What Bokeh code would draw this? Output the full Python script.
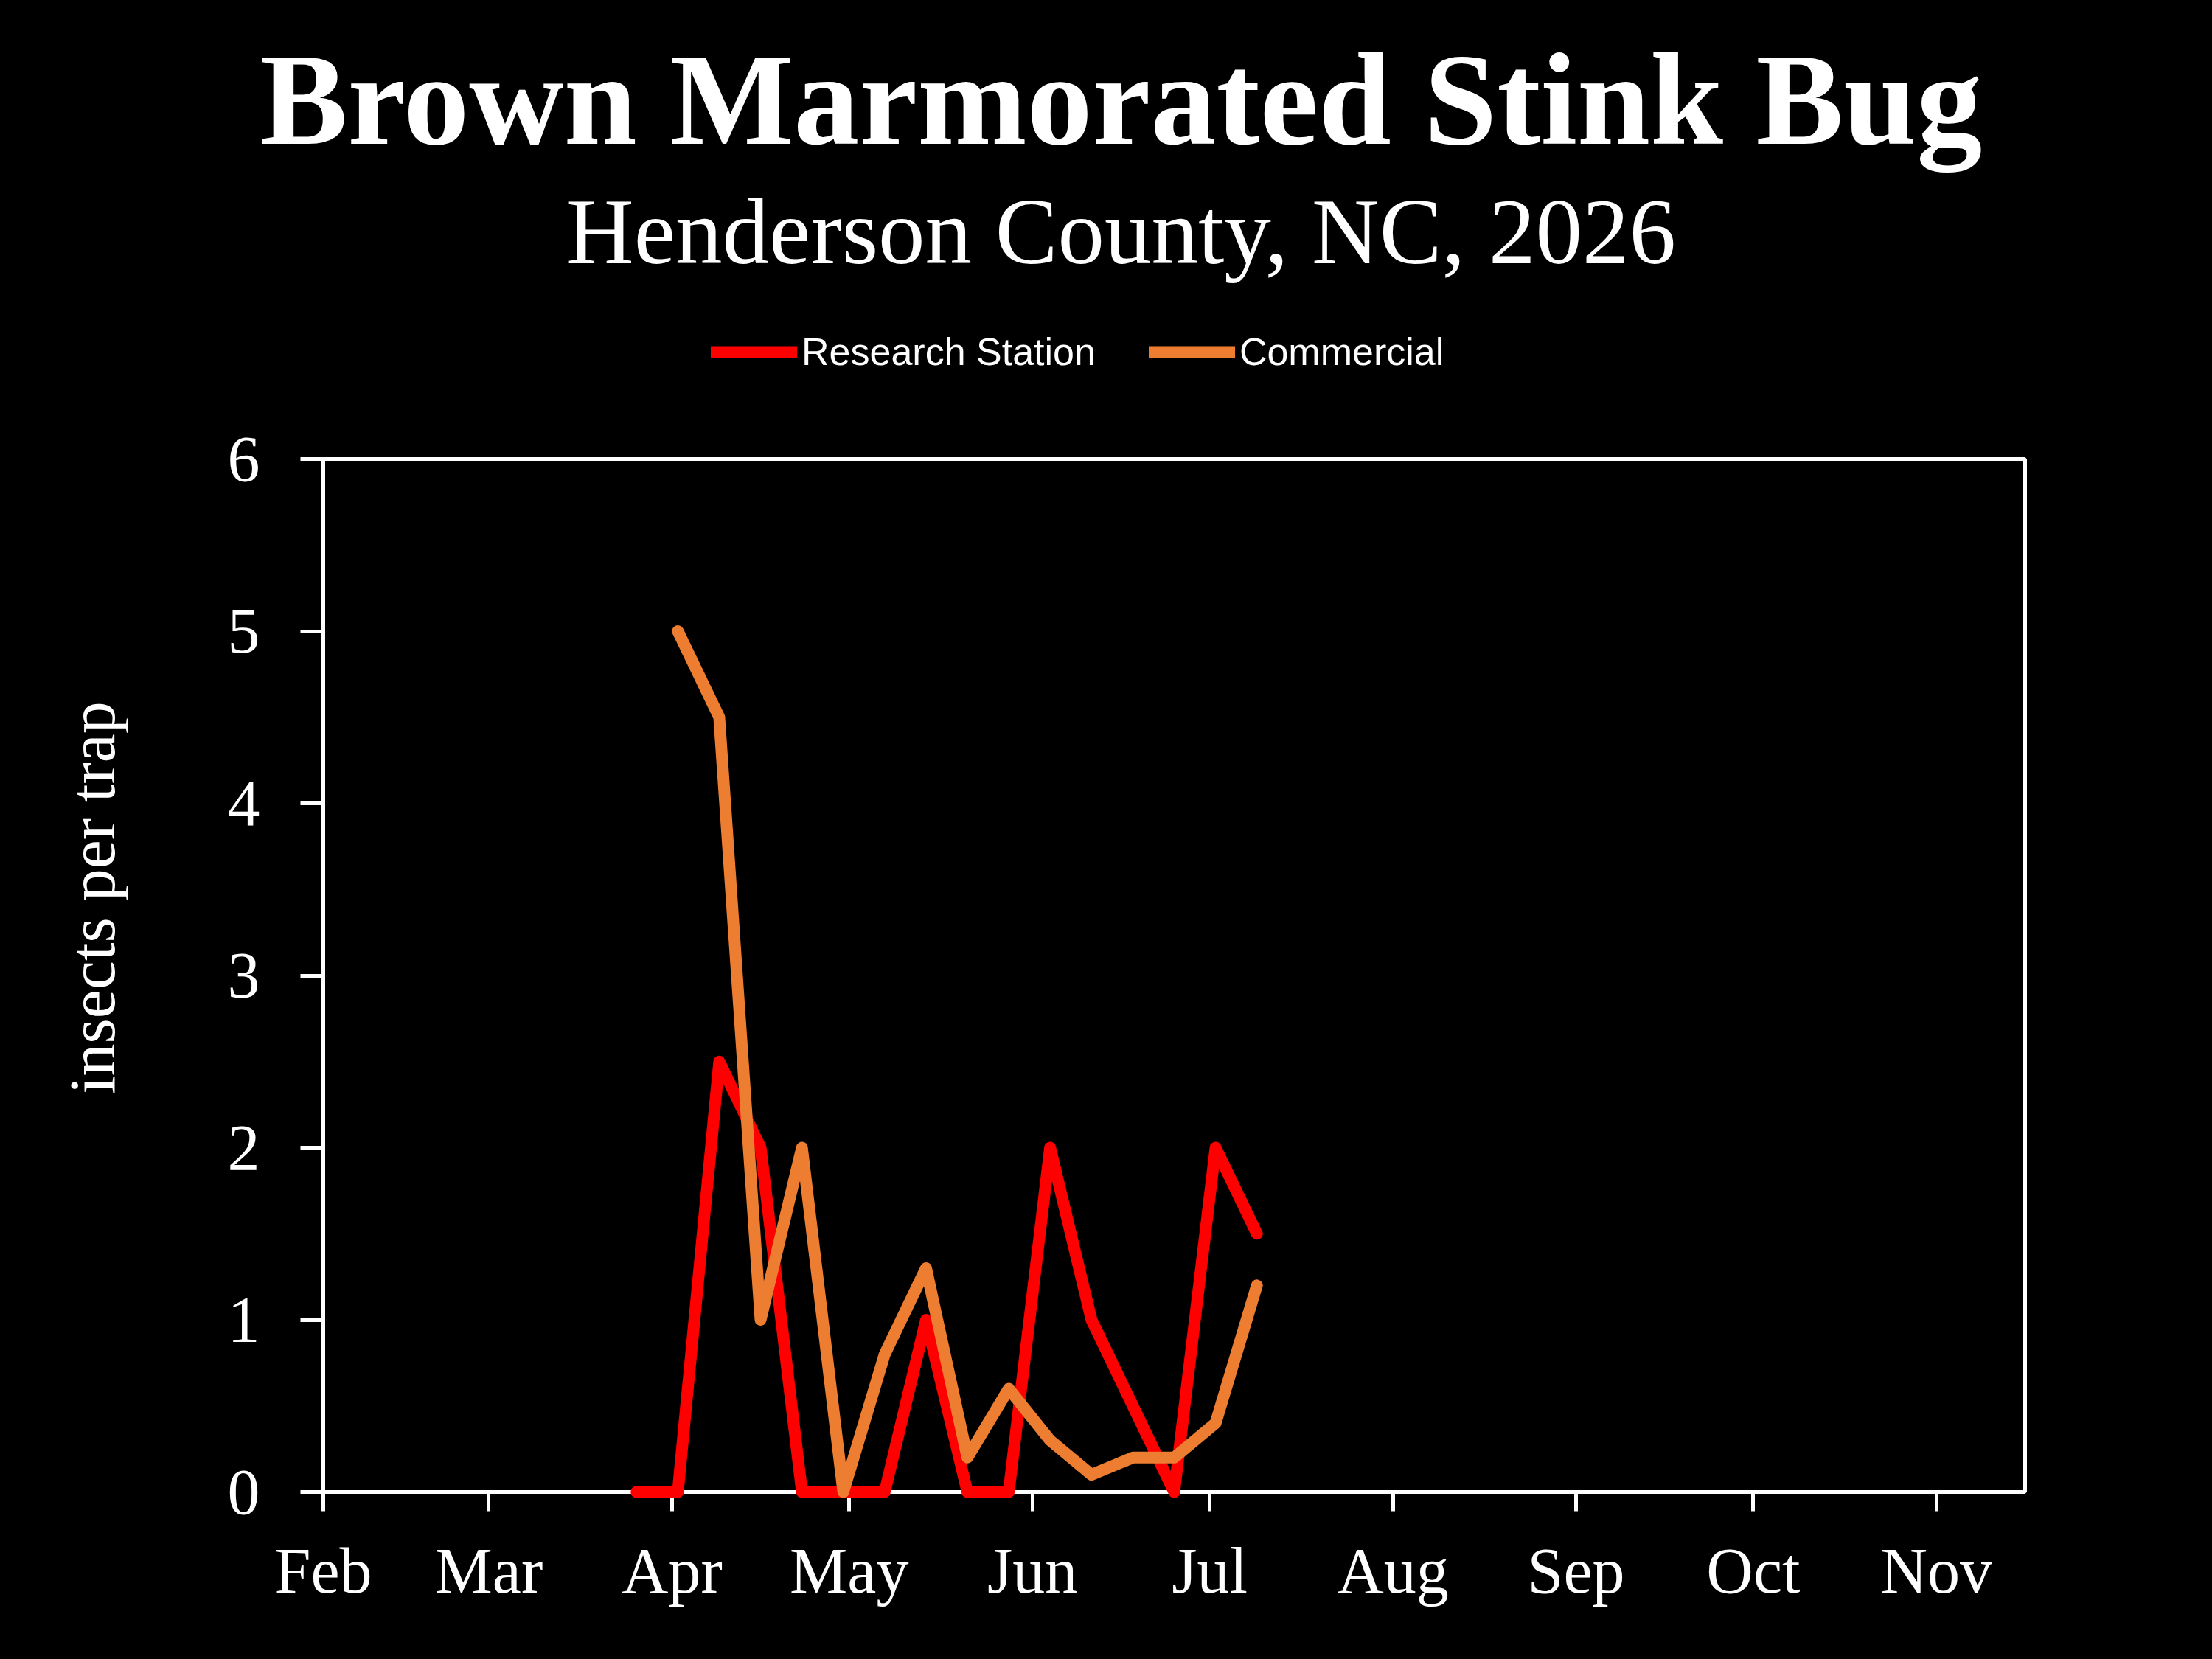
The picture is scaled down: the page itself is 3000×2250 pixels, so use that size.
import pandas as pd
from bokeh.plotting import figure
from bokeh.layouts import column, row
from bokeh.models import (ColumnDataSource, Legend, LegendItem, FixedTicker,
                          DatetimeTickFormatter, Range1d, Label)
from bokeh.embed import file_html
from bokeh.resources import INLINE

# ---------------- data ----------------
research_dates = ["2026-03-26", "2026-04-02", "2026-04-09", "2026-04-16", "2026-04-23",
                  "2026-04-30", "2026-05-07", "2026-05-14", "2026-05-21", "2026-05-28",
                  "2026-06-04", "2026-06-11", "2026-06-18", "2026-06-25", "2026-07-02",
                  "2026-07-09"]
research_values = [0, 0, 2.5, 2.0, 0, 0, 0, 1.0, 0, 0, 2.0, 1.0, 0.5, 0, 2.0, 1.5]

commercial_dates = ["2026-04-02", "2026-04-09", "2026-04-16", "2026-04-23", "2026-04-30",
                    "2026-05-07", "2026-05-14", "2026-05-21", "2026-05-28", "2026-06-04",
                    "2026-06-11", "2026-06-18", "2026-06-25", "2026-07-02", "2026-07-09"]
commercial_values = [5.0, 4.5, 1.0, 2.0, 0, 0.8, 1.3, 0.2, 0.6, 0.3, 0.1, 0.2, 0.2, 0.4, 1.2]

month_ticks = ["2026-02-01", "2026-03-01", "2026-04-01", "2026-05-01", "2026-06-01",
               "2026-07-01", "2026-08-01", "2026-09-01", "2026-10-01", "2026-11-01"]
y_ticks = [0, 1, 2, 3, 4, 5, 6]

title_text = "Brown Marmorated Stink Bug"
subtitle_text = "Henderson County, NC, 2026"
y_label_text = "insects per trap"
series_names = ["Research Station", "Commercial"]
series_colors = ["#FF0000", "#ED7D31"]

# ---------------- layout (page pixels; Bokeh's page has no body margin) ----------------
W = 2996
PAGE_BOTTOM = 2246
FL, FR, FT, FB = 438, 2746, 622, 2023  # chart frame edges
SPLIT = FT - 70                         # header / chart boundary
LEFT_W = 220                            # width of the y-label strip
serif = "Liberation Serif"
LINE_W = 16
AXIS_W = 5

def ms(d):
    return pd.Timestamp(d).value / 1e6

def blank_figure(width, height, x0, x1, y_top, y_bottom):
    f = figure(width=width, height=height, output_backend="svg", toolbar_location=None,
               x_range=Range1d(x0, x1), y_range=Range1d(y_bottom, y_top),
               x_axis_location=None, y_axis_location=None, min_border=0)
    f.frame_align = False
    f.title.text = ""
    f.background_fill_color = "black"
    f.border_fill_color = "black"
    f.outline_line_color = None
    f.xgrid.visible = False
    f.ygrid.visible = False
    return f

# ---------------- header: titles + legend ----------------
head = blank_figure(W, SPLIT, 0, W, 0, SPLIT)
head.add_layout(Label(x=1520, y=134, text=title_text, text_align="center",
                      text_baseline="alphabetic", text_font=serif,
                      text_font_style="bold", text_font_size="178px", text_color="white"))
head.add_layout(Label(x=1520, y=313, text=subtitle_text, text_align="center",
                      text_baseline="alphabetic", text_font=serif,
                      text_font_size="127px", text_color="white"))

nan = float("nan")
k1 = head.line(x=[nan], y=[nan], line_color=series_colors[0], line_width=LINE_W,
               line_cap="round")
k2 = head.line(x=[nan], y=[nan], line_color=series_colors[1], line_width=LINE_W,
               line_cap="round")
legend = Legend(items=[LegendItem(label=series_names[0], renderers=[k1]),
                       LegendItem(label=series_names[1], renderers=[k2])],
                orientation="horizontal", location=(964, SPLIT - 507),
                label_text_font="Liberation Sans", label_text_font_size="52px",
                label_text_color="white", glyph_width=117, glyph_height=30,
                label_standoff=6, spacing=72, padding=0, margin=0,
                border_line_alpha=0, background_fill_alpha=0)
head.add_layout(legend)

# ---------------- left strip: y-axis title ----------------
CH = PAGE_BOTTOM - SPLIT
left = blank_figure(LEFT_W, CH, 0, LEFT_W, SPLIT, PAGE_BOTTOM)
left.add_layout(Label(x=125, y=1217, text=y_label_text, angle=1.5707963267948966,
                      text_align="center", text_baseline="alphabetic",
                      text_font=serif, text_font_size="88px", text_color="white"))

# ---------------- chart ----------------
x_start = ms("2026-02-01")
x_end = ms("2026-11-16")
PW = W - LEFT_W
p = figure(width=PW, height=CH, x_axis_type="datetime", output_backend="svg",
           toolbar_location=None,
           x_range=Range1d(x_start, x_end), y_range=Range1d(0, 6),
           min_border_left=FL - LEFT_W, min_border_right=W - FR,
           min_border_top=FT - SPLIT, min_border_bottom=PAGE_BOTTOM - FB)
p.frame_align = False
p.title.text = ""
p.background_fill_color = "black"
p.border_fill_color = "black"
p.outline_line_color = "white"
p.outline_line_width = AXIS_W
p.xgrid.visible = False
p.ygrid.visible = False

src_r = ColumnDataSource(dict(x=pd.to_datetime(research_dates), y=research_values))
src_c = ColumnDataSource(dict(x=pd.to_datetime(commercial_dates), y=commercial_values))

p.line("x", "y", source=src_r, line_color=series_colors[0], line_width=LINE_W,
       line_join="round", line_cap="round", level="overlay")
p.line("x", "y", source=src_c, line_color=series_colors[1], line_width=LINE_W,
       line_join="round", line_cap="round", level="overlay")

xa = p.xaxis[0]
xa.ticker = FixedTicker(ticks=[ms(d) for d in month_ticks])
xa.formatter = DatetimeTickFormatter(years="%b", months="%b", days="%b", hours="%b",
                                     hourmin="%b", minutes="%b", minsec="%b",
                                     seconds="%b", milliseconds="%b", microseconds="%b")
ya = p.yaxis[0]
ya.ticker = FixedTicker(ticks=y_ticks)

for ax in (xa, ya):
    ax.axis_line_color = "white"
    ax.axis_line_width = AXIS_W
    ax.major_tick_line_color = "white"
    ax.major_tick_line_width = AXIS_W
    ax.major_tick_in = 0
    ax.minor_tick_line_color = None
    ax.major_label_text_color = "white"
    ax.major_label_text_font = serif
    ax.major_label_text_font_size = "88px"

xa.major_tick_out = 26
xa.major_label_standoff = 32
ya.major_tick_out = 31
ya.major_label_standoff = 55

page = column(head, row(left, p, spacing=0), spacing=0)
html = file_html(page, INLINE)
html = html.replace("</head>",
                    "<style>html, body { background-color: #000000 !important; }</style></head>", 1)
open("out.html", "w").write(html)
